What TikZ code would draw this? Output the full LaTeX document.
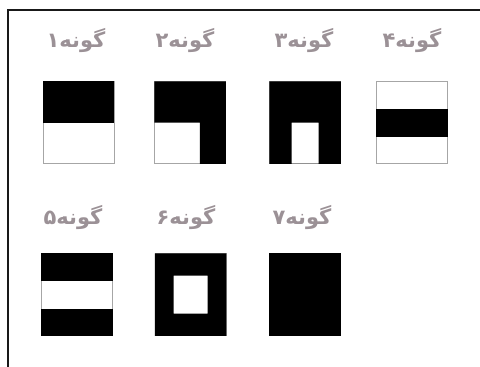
\documentclass[tikz,border=0pt]{standalone}
\usepackage{fontspec}
\newfontfamily\persianfont[Script=Arabic]{DejaVu Sans}
\TeXXeTstate=1
\definecolor{labelgray}{RGB}{155,145,150}
\newcommand{\gune}[1]{{\persianfont\bfseries\beginR گونه#1\endR}}

\begin{document}
\begin{tikzpicture}[x=1pt,y=-1pt,
 tile/.style={draw=black!35,line width=.5pt,fill=white,minimum width=71pt,minimum height=82pt,inner sep=0pt},
 caption/.style={text=labelgray,font=\fontsize{21}{24}\selectfont,inner sep=0pt},
 frame/.style={line width=2pt,draw=black!90}]
\useasboundingbox (0,0) rectangle (480,367);
\coordinate (fl) at (8,372);
\coordinate (fr) at (485,10);
\draw[frame] (fl) |- (fr);
\node[caption] (l1) at (76,41) {\gune{۱}};
\node[caption] (l2) at (185,41) {\gune{۲}};
\node[caption] (l3) at (304,41) {\gune{۳}};
\node[caption] (l4) at (412,41) {\gune{۴}};
\node[caption] (l5) at (73,218) {\gune{۵}};
\node[caption] (l6) at (186,218) {\gune{۶}};
\node[caption] (l7) at (302,218) {\gune{۷}};
\node[tile] (t1) at (78.5,122.5) {};
\node[tile] (t2) at (190,122.5) {};
\node[tile] (t3) at (305,122.5) {};
\node[tile] (t4) at (412,122.5) {};
\node[tile] (t5) at (77,294.5) {};
\node[tile] (t6) at (190.5,294.5) {};
\node[tile] (t7) at (305,294.5) {};
\fill (t1.north west) rectangle (t1.east);
\fill (t2.north west) -- (t2.north east) -- (t2.south east) -- ([xshift=-26pt]t2.south east) -- ([xshift=-26pt]t2.east) -- (t2.west) -- cycle;
\fill[even odd rule] (t3.north west) rectangle (t3.south east) ([xshift=-13.5pt]t3.south) rectangle ([xshift=13.5pt]t3.center);
\fill ([yshift=14pt]t4.west) rectangle ([yshift=-14pt]t4.east);
\fill (t5.north west) rectangle ([yshift=14pt]t5.east);
\fill ([yshift=-14pt]t5.west) rectangle (t5.south east);
\fill[even odd rule] (t6.north west) rectangle (t6.south east) ([shift={(-17pt,-19pt)}]t6.center) rectangle ([shift={(17pt,19pt)}]t6.center);
\fill (t7.north west) rectangle (t7.south east);
\end{tikzpicture}
\end{document}
